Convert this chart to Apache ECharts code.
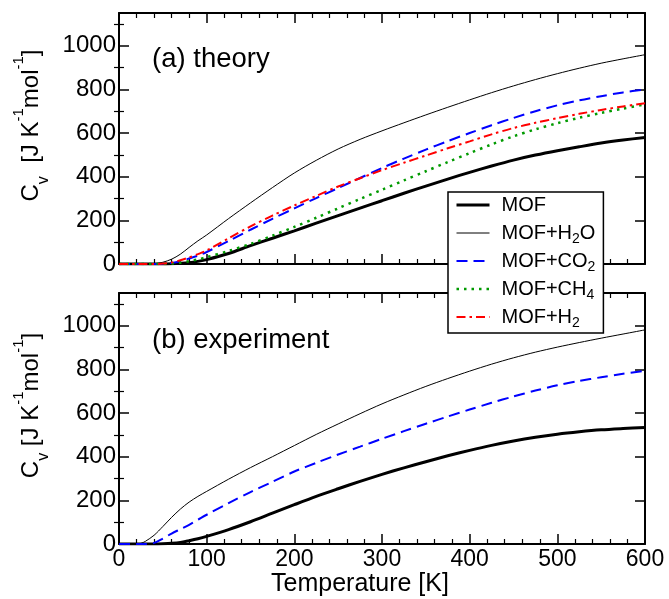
<!DOCTYPE html>
<html>
<head>
<meta charset="utf-8">
<script src="https://cdn.jsdelivr.net/npm/echarts@6/dist/echarts.min.js"></script>
<style>
  html, body { margin: 0; padding: 0; background: #fff; }
  #chart { width: 669px; height: 599px; }
</style>
</head>
<body>
<div id="chart"></div>
<script>
// Temperature grid (K) shared by every curve
const temperature = [0, 20, 25, 30, 40, 50, 60, 70, 80, 90, 100, 125, 150, 175, 200, 225, 250, 275, 300,
  325, 350, 375, 400, 425, 450, 475, 500, 525, 550, 575, 600];

// (a) theory: heat capacity C_v in J K^-1 mol^-1
const theoryMOF = [0, 0, 0, 0, 0, 0, 1, 3, 6, 12, 20, 48, 84, 118, 152, 187, 222, 256, 290,
  324, 357, 389, 420, 449, 476, 499, 519, 537, 554, 568, 580];
const theoryH2O = [0, 0, 0, 0, 1, 8, 22, 45, 76, 106, 133, 208, 280, 350, 417, 475, 527, 571, 610,
  647, 683, 718, 752, 785, 816, 845, 872, 897, 920, 940, 959];
const theoryCO2 = [0, 0, 0, 0, 0, 1, 5, 13, 25, 38, 55, 105, 157, 207, 255, 302, 348, 394, 440,
  483, 524, 563, 600, 636, 669, 700, 727, 750, 769, 786, 800];
const theoryCH4 = [0, 0, 0, 0, 0, 0, 2, 6, 13, 21, 31, 60, 92, 130, 170, 212, 255, 298, 340,
  383, 425, 467, 508, 548, 585, 617, 645, 670, 692, 712, 731];
const theoryH2  = [0, 0, 0, 0, 0, 2, 7, 17, 30, 45, 62, 118, 172, 222, 268, 312, 355, 393, 430,
  464, 497, 530, 562, 594, 623, 647, 668, 688, 706, 722, 736];

// (b) experiment
const exptMOF = [0, 0, 0, 0, 0, 1, 3, 7, 15, 24, 35, 66, 102, 141, 180, 218, 253, 287, 319,
  349, 377, 404, 429, 452, 472, 489, 503, 514, 523, 529, 534];
const exptH2O = [0, 0, 3, 12, 40, 80, 122, 160, 192, 218, 241, 297, 350, 400, 451, 502, 550, 597, 642,
  683, 722, 758, 792, 824, 853, 879, 902, 923, 943, 962, 981];
const exptCO2 = [0, 0, 0, 0, 5, 25, 48, 68, 88, 111, 134, 187, 238, 285, 332, 372, 410, 446, 482,
  517, 551, 584, 616, 647, 676, 703, 727, 747, 764, 780, 794];

// Axis ticks and labels
const xTickLabels = [0, 100, 200, 300, 400, 500, 600];
const yTickLabels = [0, 200, 400, 600, 800, 1000];
const yMinorTicks = [100, 300, 500, 700, 900, 1100];
const seriesNames = ['MOF', 'MOF+H2O', 'MOF+CO2', 'MOF+CH4', 'MOF+H2'];
const panelTitles = ['(a) theory', '(b) experiment'];

const FONT = '"Liberation Sans", Arial, Helvetica, sans-serif';
const X_MIN = 0, X_MAX = 600, Y_MIN = 0, Y_MAX = 1150;

const grids = [
  { left: 119, width: 526, top: 13, height: 251 },
  { left: 119, width: 526, top: 293, height: 251 }
];

const frameLine = { show: true, onZero: false, lineStyle: { color: '#000', width: 2 } };

function makeXAxes(gridIndex, showLabels) {
  const common = {
    type: 'value', gridIndex, min: X_MIN, max: X_MAX, interval: 100,
    axisLine: frameLine,
    axisTick: { show: true, inside: true, length: 10, lineStyle: { color: '#000', width: 1.5 } },
    minorTick: { show: true, splitNumber: 5, length: 5, lineStyle: { color: '#000', width: 1.2 } },
    splitLine: { show: false }, minorSplitLine: { show: false }
  };
  const bottom = Object.assign({}, common, {
    position: 'bottom',
    axisLabel: {
      show: showLabels, customValues: xTickLabels, margin: 4,
      color: '#000', fontSize: 23, fontFamily: FONT,
      formatter: v => String(v)
    }
  });
  if (showLabels) {
    Object.assign(bottom, {
      name: 'Temperature [K]', nameLocation: 'middle', nameGap: 14,
      nameTextStyle: { color: '#000', fontSize: 25, fontFamily: FONT, padding: [0, 44, 0, 0] }
    });
  }
  const top = Object.assign({}, common, { position: 'top', axisLabel: { show: false } });
  return [bottom, top];
}

function makeYAxes(gridIndex, title) {
  const base = {
    type: 'value', gridIndex, min: Y_MIN, max: Y_MAX,
    splitLine: { show: false }
  };
  const majorTick = { show: true, inside: true, length: 10, customValues: yTickLabels, lineStyle: { color: '#000', width: 1.5 } };
  const minorTick = { show: true, inside: true, length: 5, customValues: yMinorTicks, lineStyle: { color: '#000', width: 1.2 } };
  const leftMain = Object.assign({}, base, {
    position: 'left', axisLine: frameLine, axisTick: majorTick,
    axisLabel: {
      customValues: yTickLabels, margin: 3, color: '#000', fontSize: 24, fontFamily: FONT,
      formatter: v => String(v)
    },
    name: title, nameLocation: 'middle', nameGap: 61, nameRotate: 90,
    nameTextStyle: {
      color: '#000', fontFamily: FONT, fontSize: 24,
      padding: [0, 0, 0, 26],
      rich: {
        b: { fontSize: 24, lineHeight: 40, fontFamily: FONT, color: '#000' },
        s: { fontSize: 16, lineHeight: 17, verticalAlign: 'bottom', fontFamily: FONT, color: '#000' },
        p: { fontSize: 15, lineHeight: 16, verticalAlign: 'top', fontFamily: FONT, color: '#000' }
      }
    }
  });
  const leftMinor = Object.assign({}, base, {
    position: 'left', axisLine: { show: false }, axisTick: minorTick, axisLabel: { show: false }
  });
  const rightMain = Object.assign({}, base, {
    position: 'right', axisLine: frameLine, axisTick: majorTick, axisLabel: { show: false }
  });
  const rightMinor = Object.assign({}, base, {
    position: 'right', axisLine: { show: false }, axisTick: minorTick, axisLabel: { show: false }
  });
  return [leftMain, leftMinor, rightMain, rightMinor];
}

const cvTitleA = '{b|C}{s|v}{b|  [J K}{p|-1}{b|mol}{p|-1}{b|]}';
const cvTitleB = '{b|C}{s|v}{b| [J K}{p|-1}{b|mol}{p|-1}{b|]}';

const styles = {
  'MOF':     { color: '#000000', width: 3, type: 'solid' },
  'MOF+H2O': { color: '#000000', width: 1, type: 'solid' },
  'MOF+CO2': { color: '#0000ff', width: 2, type: [11, 6] },
  'MOF+CH4': { color: '#009a00', width: 2.5, type: [2.5, 5] },
  'MOF+H2':  { color: '#ff0000', width: 2, type: [9, 4, 2.5, 4] }
};

function lineSeries(name, values, panel) {
  const st = styles[name];
  return {
    name, type: 'line',
    xAxisIndex: panel * 2, yAxisIndex: panel * 4,
    data: temperature.map((t, i) => [t, values[i]]),
    symbol: 'none', smooth: 0.3,
    color: st.color,
    itemStyle: { opacity: 0 },
    lineStyle: { color: st.color, width: st.width, type: st.type, cap: 'butt' },
    emphasis: { disabled: true },
    animation: false
  };
}

const series = [
  lineSeries('MOF', theoryMOF, 0),
  lineSeries('MOF+H2O', theoryH2O, 0),
  lineSeries('MOF+CO2', theoryCO2, 0),
  lineSeries('MOF+CH4', theoryCH4, 0),
  lineSeries('MOF+H2', theoryH2, 0),
  lineSeries('MOF', exptMOF, 1),
  lineSeries('MOF+H2O', exptH2O, 1),
  lineSeries('MOF+CO2', exptCO2, 1)
];

// Legend entries: digits become subscripts
const legendLabel = name => name.split(/(\d)/).filter(Boolean)
  .map(part => /\d/.test(part) ? '{s|' + part + '}' : '{t|' + part + '}').join('');

const chart = echarts.init(document.getElementById('chart'), null, { renderer: 'canvas' });
chart.setOption({
  animation: false,
  backgroundColor: '#fff',
  grid: grids,
  xAxis: [...makeXAxes(0, false), ...makeXAxes(1, true)],
  yAxis: [...makeYAxes(0, cvTitleA), ...makeYAxes(1, cvTitleB)],
  legend: {
    data: seriesNames.map(name => ({
      name,
      lineStyle: { width: styles[name].width, type: styles[name].type, color: styles[name].color }
    })),
    orient: 'vertical',
    left: 448, top: 192,
    padding: [0, 8, 3, 7],
    itemGap: 2,
    itemWidth: 33, itemHeight: 14,
    backgroundColor: '#fff',
    borderColor: '#000', borderWidth: 1.5, borderRadius: 0,
    selectedMode: false,
    itemStyle: { opacity: 0, borderWidth: 0 },
    formatter: legendLabel,
    textStyle: {
      color: '#000', fontSize: 20, fontFamily: FONT, lineHeight: 26,
      padding: [0, 0, 0, 7],
      rich: {
        t: { fontSize: 20, lineHeight: 26, fontFamily: FONT, color: '#000' },
        s: { fontSize: 14, lineHeight: 12, verticalAlign: 'bottom', fontFamily: FONT, color: '#000' }
      }
    }
  },
  graphic: panelTitles.map((txt, i) => ({
    type: 'text',
    x: 152, y: i === 0 ? 59 : 340,
    style: { text: txt, fill: '#000', font: '27.5px ' + FONT, textVerticalAlign: 'middle' },
    silent: true
  })),
  series
});
</script>
</body>
</html>
